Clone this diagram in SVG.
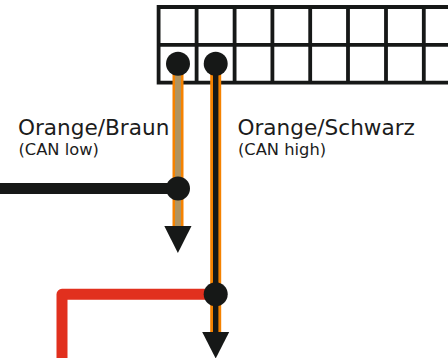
<svg xmlns="http://www.w3.org/2000/svg" width="448" height="358" viewBox="0 0 448 358">
<style>
.grid{fill:none;stroke:#161817;stroke-width:3.8}
.w{fill:none;stroke-width:11}
.dot{fill:#161817}
.t1{font-family:"DejaVu Sans",sans-serif;font-size:21.6px;fill:#1c1c1c}
.t2{font-family:"DejaVu Sans",sans-serif;font-size:16.3px;fill:#1c1c1c}
</style>
<rect width="448" height="358" fill="#fff"/>
<g id="connector-block" class="grid">
<path d="M448 7H158.6V82.6H448M448 44.8H158.6M196.6 7V82.6M234.6 7V82.6M272.4 7V82.6M310.2 7V82.6M348 7V82.6M386 7V82.6M423.8 7V82.6"/>
</g>
<g id="connectors">
<path class="w" stroke="#f58200" d="M178 64V230M215.7 64V336"/>
<path fill="none" stroke="#b0935f" stroke-width="6" d="M178 64V230"/>
<path fill="none" stroke="#161817" stroke-width="5.4" d="M215.7 64V336"/>
<path class="w" stroke="#161817" stroke-width="10.6" d="M0 188.5H178"/>
<path class="w" stroke="#e1301e" stroke-linejoin="round" d="M62 358V294.3H215.7"/>
</g>
<g id="pin-low"><circle class="dot" cx="178" cy="63.7" r="12"/></g>
<g id="pin-high"><circle class="dot" cx="215.7" cy="63.7" r="12"/></g>
<g id="junction-low"><circle class="dot" cx="178" cy="188.5" r="12"/></g>
<g id="junction-high"><circle class="dot" cx="215.7" cy="294.3" r="12"/></g>
<g id="arrow-low"><path class="dot" d="M164.3 226H191.5L177.9 253Z"/></g>
<g id="arrow-high"><path class="dot" d="M202.2 332H229.2L215.7 358.5Z"/></g>
<g id="label-low">
<text class="t1" x="18" y="135">Orange/Braun</text>
<text class="t2" x="18.5" y="155">(CAN low)</text>
</g>
<g id="label-high">
<text class="t1" x="237.5" y="135">Orange/Schwarz</text>
<text class="t2" x="238" y="155">(CAN high)</text>
</g>
</svg>
